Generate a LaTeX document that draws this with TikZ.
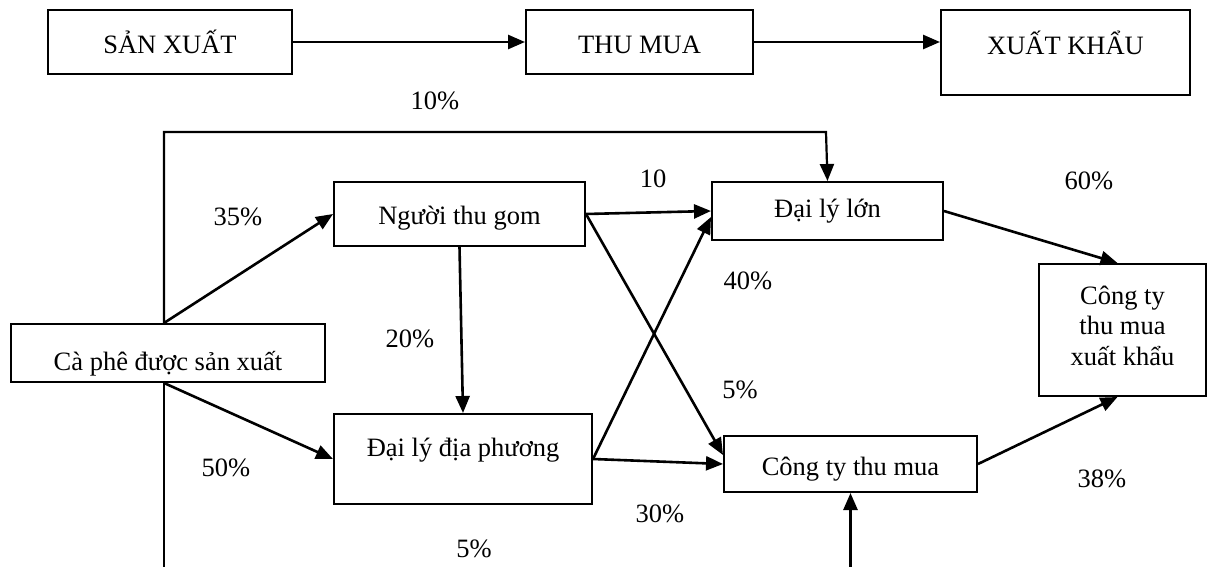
\documentclass[tikz,border=0pt]{standalone}
\usepackage{fontspec}
\setmainfont{Liberation Serif}
\usetikzlibrary{arrows.meta,calc}
\newcommand\bl[2]{\raisebox{#1}[0pt][0pt]{#2}}
\begin{document}
\begin{tikzpicture}[x=1pt,y=-1pt,
  box/.style={draw,line width=2pt,rectangle,inner sep=0pt,font=\fontsize{26.5}{30}\selectfont},
  lab/.style={inner sep=0pt,font=\fontsize{26.5}{30}\selectfont},
  arr/.style={line width=2.6pt,-{Triangle[length=17pt,width=14pt]}},
  ln/.style={line width=2.4pt}]
\useasboundingbox (0,0) rectangle (1208,567);

% top row
\node[box,minimum width=244pt,minimum height=64pt] (sx) at (170,42) {\bl{-12pt}{SẢN XUẤT}};
\node[box,minimum width=227pt,minimum height=64pt] (tm) at (639.5,42) {\bl{-12pt}{THU MUA}};
\node[box,minimum width=249pt,minimum height=85pt] (xk) at (1065.5,52.5) {\bl{-2.5pt}{XUẤT KHẨU}};

% chain boxes
\node[box,minimum width=314pt,minimum height=58pt] (caphe) at (168,353) {\bl{-17pt}{Cà phê được sản xuất}};
\node[box,minimum width=251pt,minimum height=64pt] (ntg) at (459.5,214) {\bl{-10pt}{Người thu gom}};
\node[box,minimum width=258pt,minimum height=90pt] (ddp) at (463,459) {\bl{3pt}{Đại lý địa phương}};
\node[box,minimum width=231pt,minimum height=58pt] (dll) at (827.5,211) {\bl{-7pt}{Đại lý lớn}};
\node[box,minimum width=253pt,minimum height=56pt] (ctm) at (850.5,464) {\bl{-11pt}{Công ty thu mua}};
\node[box,minimum width=167pt,minimum height=132pt] (cx) at (1122.5,330)
  {\bl{-35pt}{\vbox{\baselineskip=30.5pt\lineskiplimit=-100pt\halign{\hfil#\hfil\cr Công ty\cr thu mua\cr xuất khẩu\cr}}}};

% labels
\node[lab] (p10a) at (435,101) {10\%};
\node[lab] (p35) at (238,217) {35\%};
\node[lab] (p20) at (410,339) {20\%};
\node[lab] (p10b) at (653,179) {10};
\node[lab] (p60) at (1089,181) {60\%};
\node[lab] (p40) at (748,281) {40\%};
\node[lab] (p5a) at (740,390) {5\%};
\node[lab] (p50) at (226,468) {50\%};
\node[lab] (p30) at (660,514) {30\%};
\node[lab] (p38) at (1102,479) {38\%};
\node[lab] (p5b) at (474,549) {5\%};

% helper coordinates
\coordinate (cpt) at ([xshift=-4pt]caphe.north);
\coordinate (cpb) at ([xshift=-4pt]caphe.south);
\coordinate (looptop) at (826,132);
\coordinate (bot) at (0,567);

% top row arrows
\draw[arr] (sx.east) -- (tm.west);
\draw[arr] (tm.east) -- (tm.east -| xk.west);

% chain arrows
\draw[arr,line width=2.2pt] (cpt) -- (cpt |- looptop) -- (looptop) -- (dll.north);
\draw[arr] (cpt) -- (ntg.west);
\draw[arr] (cpb) -- (ddp.west);
\draw[ln] (cpb) -- (cpb |- bot);
\draw[arr] (ntg.south) -- (ddp.north);
\draw[arr] (ntg.east) -- (dll.west);
\draw[arr] (ntg.east) -- ([yshift=9pt]ctm.west);
\draw[arr] (ddp.east) -- ([yshift=-6pt]dll.west);
\draw[arr] (ddp.east) -- (ctm.west);
\draw[arr] (dll.east) -- ([xshift=-5pt]cx.north);
\draw[arr] (ctm.east) -- ([xshift=-5pt]cx.south);
\draw[arr] (ctm.south |- bot) -- (ctm.south);
\end{tikzpicture}
\end{document}
